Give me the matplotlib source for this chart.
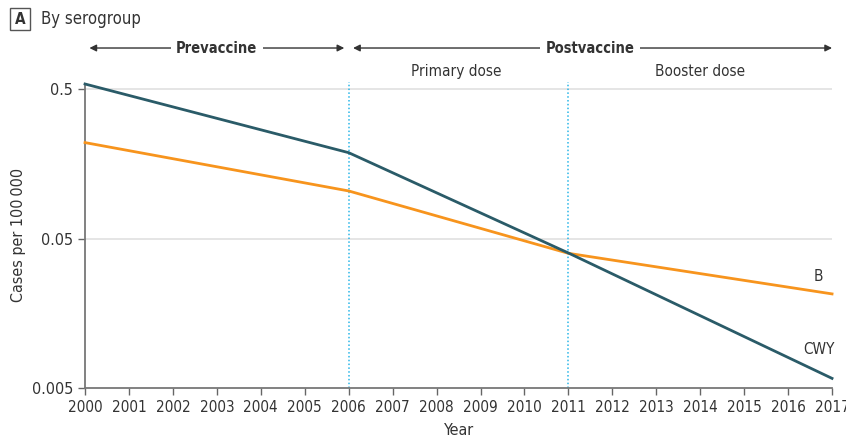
import numpy as np
import matplotlib.pyplot as plt
from matplotlib.patches import Rectangle

plt.rcParams['font.family'] = ['DejaVu Sans']
plt.rcParams['font.stretch'] = 'condensed'

# --- data ---
years = [2000, 2006, 2011, 2017]
cwy = [0.54, 0.1875, 0.0400, 0.0058]
b = [0.219, 0.104, 0.0398, 0.0213]
year_ticks = list(range(2000, 2018))
y_ticks = [0.005, 0.05, 0.5]
y_ticklabels = ['0.005', '0.05', '0.5']
breaks = [2006, 2011]

CWY_COL = '#2a5b68'
B_COL = '#f7941d'
TXT = '#333333'

fig = plt.figure(figsize=(8.46, 4.37), dpi=100)
ax = fig.add_axes([0.1005, 0.1121, 0.883, 0.7003])

ax.set_yscale('log')
ax.set_xlim(2000, 2017)
ax.set_ylim(0.005, 0.557)

for yv in y_ticks[1:]:
    ax.axhline(yv, color='#e0e0e0', lw=1.2, zorder=0)
for xb in breaks:
    ax.axvline(xb, color='#29b6e8', lw=1.1, ls=(0, (1, 1.5)), zorder=1)

ax.plot(years, b, color=B_COL, lw=2, zorder=3, clip_on=False)
ax.plot(years, cwy, color=CWY_COL, lw=2, zorder=4, clip_on=False)

ax.text(2016.7, 0.0278, 'B', ha='center', va='center', fontsize=11, color=TXT)
ax.text(2016.7, 0.0091, 'CWY', ha='center', va='center', fontsize=11, color=TXT)

ax.set_xticks(year_ticks)
ax.set_xticklabels([str(y) for y in year_ticks])
ax.set_yticks(y_ticks)
ax.set_yticklabels(y_ticklabels)
ax.yaxis.set_minor_locator(plt.NullLocator())
ax.tick_params(axis='both', labelsize=11, colors=TXT, length=5, width=1, color='#666666')
ax.tick_params(axis='y', labelsize=11.5)

for s in ['top', 'right']:
    ax.spines[s].set_visible(False)
for s in ['left', 'bottom']:
    ax.spines[s].set_color('#777777')
    ax.spines[s].set_linewidth(1.3)
ax.spines['left'].set_bounds(0.005, 0.54)

ax.set_xlabel('Year', fontsize=11.5, color=TXT, labelpad=6)
ax.set_ylabel('Cases per 100\u2009000', fontsize=11.5, color=TXT, labelpad=4)

# period arrows above the plot
ya = 1.111
coords = ('data', 'axes fraction')
arrow = dict(arrowstyle='<|-|>', color='#333333', lw=1, mutation_scale=10, shrinkA=0, shrinkB=0)
ax.annotate('', xy=(2000.1, ya), xytext=(2005.9, ya), xycoords=coords,
            textcoords=coords, arrowprops=arrow, annotation_clip=False)
ax.annotate('', xy=(2006.1, ya), xytext=(2017, ya), xycoords=coords,
            textcoords=coords, arrowprops=arrow, annotation_clip=False)
box = dict(facecolor='white', edgecolor='none', pad=4)
ax.text(2003, ya, 'Prevaccine', transform=ax.get_xaxis_transform(), ha='center', va='center',
        fontsize=10.5, fontweight='bold', color=TXT, bbox=box)
ax.text(2011.5, ya, 'Postvaccine', transform=ax.get_xaxis_transform(), ha='center', va='center',
        fontsize=10.5, fontweight='bold', color=TXT, bbox=box)
ax.text(2008.45, 1.033, 'Primary dose', transform=ax.get_xaxis_transform(), ha='center',
        va='center', fontsize=11, color=TXT)
ax.text(2014.0, 1.033, 'Booster dose', transform=ax.get_xaxis_transform(), ha='center',
        va='center', fontsize=11, color=TXT)

# panel label
fig.patches.append(Rectangle((10 / 846, 1 - 30 / 437), 20 / 846, 22 / 437,
                             transform=fig.transFigure, facecolor='white',
                             edgecolor='#555555', lw=1))
fig.text(20 / 846, 1 - 19 / 437, 'A', ha='center', va='center', fontsize=11,
         fontweight='bold', color=TXT)
fig.text(41 / 846, 1 - 19 / 437, 'By serogroup', ha='left', va='center', fontsize=12,
         color=TXT)

fig.savefig('out.png', dpi=100)
